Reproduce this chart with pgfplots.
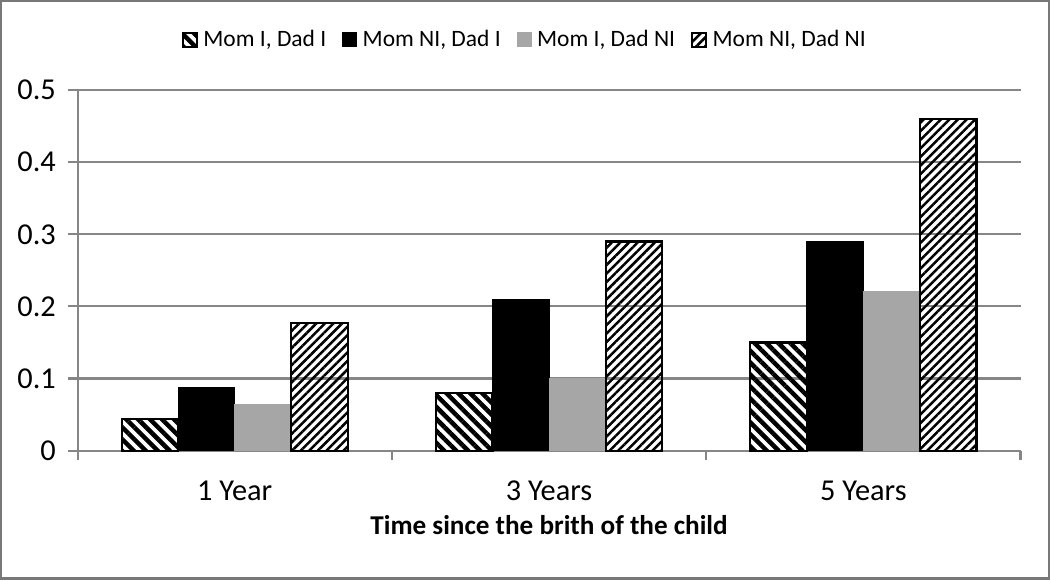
\documentclass[border=0pt]{standalone}
\usepackage{pgfplots}
\pgfplotsset{compat=1.18}
\usepackage{fontspec}
\setmainfont{Carlito}
\usetikzlibrary{patterns.meta}
\definecolor{gridgray}{RGB}{134,134,134}
\definecolor{bargray}{RGB}{166,166,166}
\definecolor{framegray}{RGB}{120,120,120}

\begin{document}
\begin{tikzpicture}
\begin{axis}[
  scale only axis, width=12.56cm, height=4.80cm,
  xmin=-0.5, xmax=2.5, ymin=0, ymax=0.5,
  ybar=0pt, bar width=0.18,
  clip=false,
  axis x line*=bottom, axis y line*=left,
  axis line style={gridgray, line width=0.8pt},
  tick align=outside,
  tick style={gridgray, line width=0.8pt},
  major tick length=0.13cm,
  ytick={0,0.1,...,0.5},
  yticklabels={0,0.1,0.2,0.3,0.4,0.5},
  ymajorgrids, grid style={gridgray, line width=0.8pt},
  yticklabel style={font=\fontsize{11.5}{13}\selectfont, xshift=-1pt},
  xtick={-0.5,0.5,1.5,2.5}, xticklabels={},
  extra x ticks={0,1,2},
  extra x tick labels={1 Year,3 Years,5 Years},
  extra x tick style={major tick length=0pt, grid=none,
    tick label style={font=\fontsize{11.5}{13}\selectfont, yshift=-8pt}},
  xlabel={\textbf{Time since the brith of the child}},
  xlabel style={font=\fontsize{10.3}{12}\selectfont, at={(axis description cs:0.5,-0.208)}, anchor=center},
  /pgf/number format/assume math mode=true,
  legend style={at={(axis description cs:0.476,1.139)}, anchor=center, draw=none,
    font=\fontsize{8.9}{10}\selectfont, legend columns=4,
    /tikz/every even column/.append style={column sep=0.14cm}},
  legend image code/.code={\draw[#1] (0cm,-0.09cm) rectangle (0.19cm,0.1cm);},
]
\addplot[draw=black, line width=0.8pt, pattern={Lines[angle=-45,distance=3.2pt,line width=1.7pt]}]
  coordinates {(0,0.044) (1,0.080) (2,0.150)};
\addplot[draw=black, fill=black] coordinates {(0,0.088) (1,0.210) (2,0.290)};
\addplot[draw=bargray, fill=bargray] coordinates {(0,0.064) (1,0.100) (2,0.220)};
\addplot[draw=black, line width=0.8pt, pattern={Lines[angle=45,distance=2.3pt,line width=0.95pt]}]
  coordinates {(0,0.177) (1,0.290) (2,0.460)};
\legend{Mom I{,} Dad I, Mom NI{,} Dad I, Mom I{,} Dad NI, Mom NI{,} Dad NI}
\draw[framegray, line width=0.9pt] (axis description cs:-0.081,-0.355) rectangle (axis description cs:1.030,1.247);
\end{axis}
\end{tikzpicture}
\end{document}
